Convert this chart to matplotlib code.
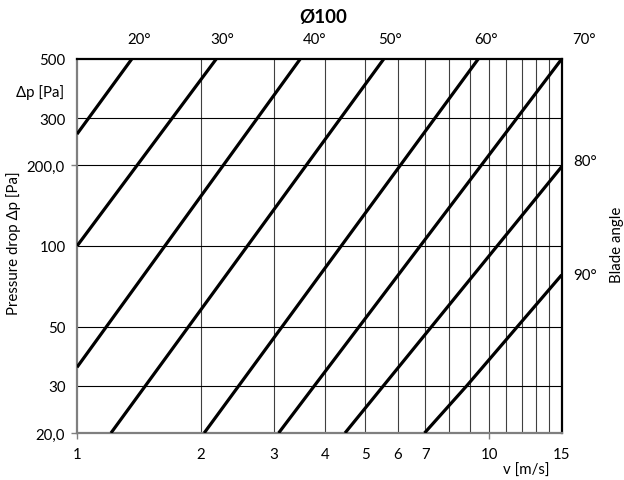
import matplotlib
matplotlib.use("Agg")
import matplotlib.pyplot as plt

plt.rcParams['font.family'] = ['Lato', 'DejaVu Sans']

# pressure drop curves for the Ø100 damper, one per blade angle
angles = ["20°", "30°", "40°", "50°", "60°", "70°", "80°", "90°"]
v_20 = [1.0, 1.358]
dp_20 = [262, 500]
v_30 = [1.0, 2.177]
dp_30 = [100, 500]
v_40 = [1.0, 3.48]
dp_40 = [35.2, 500]
v_50 = [1.209, 5.55]
dp_50 = [20, 500]
v_60 = [2.035, 9.41]
dp_60 = [20, 500]
v_70 = [3.085, 15.0]
dp_70 = [20, 500]
v_80 = [4.47, 15.0]
dp_80 = [20, 198]
v_90 = [6.97, 8.82, 15.0]
dp_90 = [20, 30, 78]

x_major = [1, 10]
x_major_labels = ["1", "10"]
x_minor = [2, 3, 4, 5, 6, 7, 15]
x_minor_labels = ["2", "3", "4", "5", "6", "7", "15"]
y_major = [20, 200]
y_major_labels = ["20,0", "200,0"]
y_minor = [30, 50, 100, 300, 500]
y_minor_labels = ["30", "50", "100", "300", "500"]

x_grid = [2, 3, 4, 5, 6, 7, 8, 9, 10, 11, 12, 13, 14]
y_grid = [30, 50, 100, 200, 300]

curves = [(v_20, dp_20), (v_30, dp_30), (v_40, dp_40), (v_50, dp_50),
          (v_60, dp_60), (v_70, dp_70), (v_80, dp_80), (v_90, dp_90)]
# label offset from the end of each curve, in pixels
label_offsets = [(7, 20), (6, 20), (14, 20), (6, 20), (8, 20), (22, 20), (23, 6), (23, 0)]

fs = 10.8

fig = plt.figure(figsize=(6.24, 4.81), dpi=100)
ax = fig.add_axes([77 / 624, 47 / 481, 484.7 / 624, 374 / 481])
ax.set_xscale("log")
ax.set_yscale("log")
ax.set_xlim(1, 15)
ax.set_ylim(20, 500)

for g in x_grid:
    ax.axvline(g, color="#404040", lw=0.8, zorder=1)
for g in y_grid:
    ax.axhline(g, color="black", lw=0.8, zorder=1)

for (v, dp), name, off in zip(curves, angles, label_offsets):
    ax.plot(v, dp, color="black", lw=2.3, solid_capstyle="butt", zorder=3)
    ax.annotate(name, xy=(v[-1], dp[-1]), xytext=off, textcoords="offset pixels",
                ha="center", va="center", fontsize=fs, annotation_clip=False)

ax.set_xticks(x_major, x_major_labels)
ax.set_xticks(x_minor, x_minor_labels, minor=True)
ax.set_yticks(y_major, y_major_labels)
ax.set_yticks(y_minor, y_minor_labels, minor=True)
ax.tick_params(axis="both", which="major", length=4, width=1, color="#808080", labelsize=fs)
ax.tick_params(axis="both", which="minor", length=0, labelsize=fs)
ax.tick_params(axis="x", which="major", pad=6)
ax.tick_params(axis="x", which="minor", pad=10)
ax.tick_params(axis="y", which="major", pad=5)
ax.tick_params(axis="y", which="minor", pad=8)

for side in ["top", "right"]:
    ax.spines[side].set_color("black")
    ax.spines[side].set_linewidth(1.6)
for side in ["left", "bottom"]:
    ax.spines[side].set_color("#7f7f7f")
    ax.spines[side].set_linewidth(1.6)

fig.text(323 / 624, 1 - 18 / 481, "Ø100", ha="center", va="center", fontsize=13.5, fontweight="bold")
fig.text(64 / 624, 1 - 93 / 481, "Δp [Pa]", ha="right", va="center", fontsize=fs)
fig.text(14 / 624, 1 - 243 / 481, "Pressure drop Δp [Pa]", ha="center", va="center",
         rotation=90, fontsize=fs)
fig.text(617 / 624, 1 - 245 / 481, "Blade angle", ha="center", va="center",
         rotation=90, fontsize=fs)
fig.text(526 / 624, 1 - 471 / 481, "v [m/s]", ha="center", va="center", fontsize=fs)

fig.savefig("out.png", dpi=100)
